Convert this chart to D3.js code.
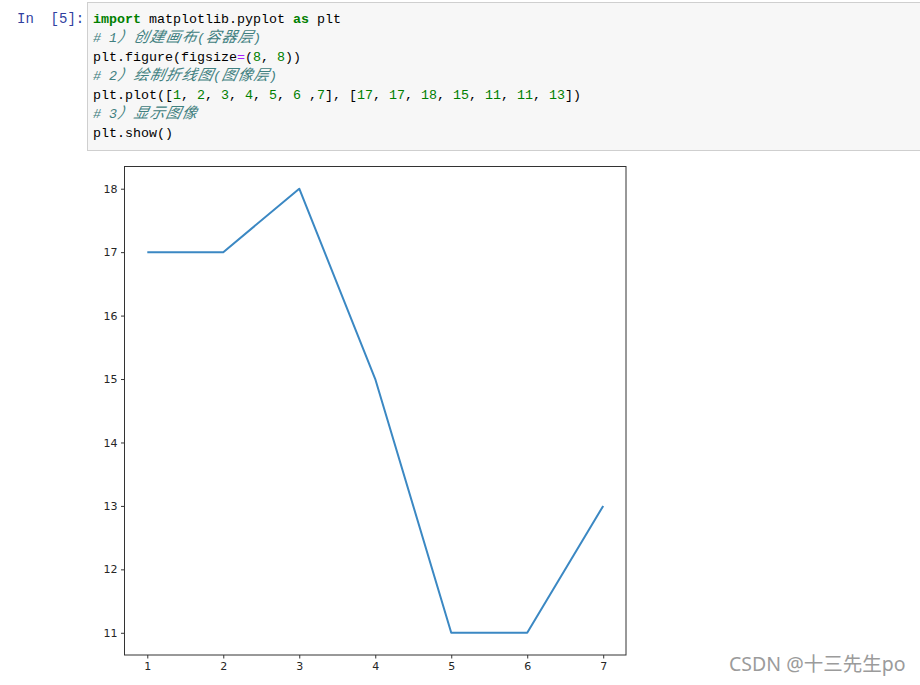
<!DOCTYPE html>
<html><head><meta charset="utf-8">
<script src="https://cdn.jsdelivr.net/npm/d3@7/dist/d3.min.js"></script>
<style>html,body{margin:0;padding:0;background:#fff;}svg{display:block;}</style>
</head><body>
<script>
// ---- data ----
const xValues = [1, 2, 3, 4, 5, 6, 7];
const yValues = [17, 17, 18, 15, 11, 11, 13];
const xTicks = [1, 2, 3, 4, 5, 6, 7];
const yTicks = [11, 12, 13, 14, 15, 16, 17, 18];
const promptText = "In  [5]:";
const watermark = "CSDN @十三先生po";
const codeLines = [
  [["import","kw"],[" matplotlib.pyplot ","t"],["as","kw"],[" plt","t"]],
  [["# 1）创建画布(容器层)","cm"]],
  [["plt.figure(figsize","t"],["=","op"],["(","t"],["8","num"],[", ","t"],["8","num"],["))","t"]],
  [["# 2）绘制折线图(图像层)","cm"]],
  [["plt.plot([","t"],["1","num"],[", ","t"],["2","num"],[", ","t"],["3","num"],[", ","t"],["4","num"],[", ","t"],["5","num"],[", ","t"],["6","num"],[" ,","t"],["7","num"],["], [","t"],["17","num"],[", ","t"],["17","num"],[", ","t"],["18","num"],[", ","t"],["15","num"],[", ","t"],["11","num"],[", ","t"],["11","num"],[", ","t"],["13","num"],["])","t"]],
  [["# 3）显示图像","cm"]],
  [["plt.show()","t"]]
];

(function () {
const W = 920, H = 685;
const svg = d3.select("body").append("svg").attr("width", W).attr("height", H);

// ---- code cell ----
svg.append("rect").attr("x", 87.5).attr("y", 2.5).attr("width", 840).attr("height", 148)
  .attr("fill", "#f7f7f7").attr("stroke", "#cfcfcf");
svg.append("text").attr("x", 17).attr("y", 23)
  .attr("font-family", "Liberation Mono, monospace").attr("font-size", 14)
  .attr("fill", "#303F9F").style("white-space","pre").text(promptText);

const styles = {
  kw: {fill: "#008000", weight: "bold", italic: false},
  t: {fill: "#000000", weight: "normal", italic: false},
  op: {fill: "#AA22FF", weight: "normal", italic: false},
  num: {fill: "#008000", weight: "normal", italic: false},
  cm: {fill: "#408080", weight: "normal", italic: true}
};
const cell = 8, x0 = 93, y0 = 23, lh = 19;
const skew = Math.tan(12 * Math.PI / 180);
codeLines.forEach((line, li) => {
  let u = 0;
  const by = y0 + li * lh;
  line.forEach(([txt, st]) => {
    const s = styles[st];
    for (const ch of txt) {
      const wide = ch.codePointAt(0) > 0x2E80;
      if (ch !== " ") {
        const t = svg.append("text")
          .attr("x", x0 + u * cell)
          .attr("y", by)
          .attr("font-family", wide ? "Noto Sans CJK SC" : "Liberation Mono, monospace")
          .attr("font-size", wide ? 15 : 13.33)
          .attr("font-weight", s.weight)
          .attr("font-style", s.italic ? "italic" : "normal")
          .attr("fill", s.fill)
          .text(ch);
        if (wide && s.italic) t.attr("transform", `translate(${by * skew},0) skewX(-12)`);
      }
      u += wide ? 2 : 1;
    }
  });
});

// ---- chart ----
const pLeft = 124.5, pRight = 626, pTop = 166.5, pBottom = 655;
const x = d3.scaleLinear().domain([0.7, 7.3]).range([pLeft, pRight]);
const y = d3.scaleLinear().domain([10.65, 18.35]).range([pBottom, pTop]);

const g = svg.append("g");
const xAxis = g.append("g").attr("transform", `translate(0,${pBottom})`)
  .call(d3.axisBottom(x).tickValues(xTicks).tickSize(3.5).tickPadding(3.5).tickFormat(d3.format("d")));
const yAxis = g.append("g").attr("transform", `translate(${pLeft},0)`)
  .call(d3.axisLeft(y).tickValues(yTicks).tickSize(3.5).tickPadding(3.5).tickFormat(d3.format("d")));
[xAxis, yAxis].forEach(a => {
  a.select(".domain").remove();
  a.selectAll("line").attr("stroke", "#333");
  a.selectAll("text").attr("font-family", "DejaVu Sans").attr("font-size", 11).attr("fill", "#262626");
});

g.append("path").datum(xValues.map((d, i) => [d, yValues[i]]))
  .attr("fill", "none").attr("stroke", "#3b88c3").attr("stroke-width", 2)
  .attr("stroke-linejoin", "round")
  .attr("d", d3.line().x(d => x(d[0])).y(d => y(d[1])));

g.append("rect").attr("x", pLeft).attr("y", pTop).attr("width", pRight - pLeft).attr("height", pBottom - pTop)
  .attr("fill", "none").attr("stroke", "#333").attr("stroke-width", 1);

// ---- watermark ----
svg.append("text").attr("x", 729).attr("y", 671)
  .attr("font-family", "Noto Sans, Noto Sans CJK SC").attr("font-size", 19.5)
  .attr("fill", "#9b9b9b").text(watermark);
})();
</script>
</body></html>
